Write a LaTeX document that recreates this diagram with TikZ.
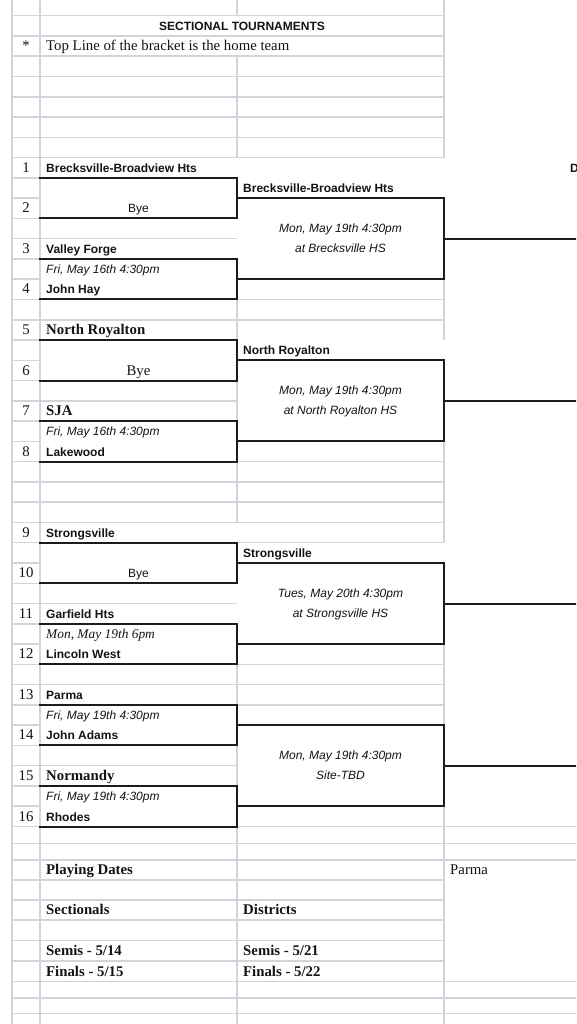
\documentclass[tikz,border=0pt]{standalone}
\usepackage{fontspec}
\setmainfont{Liberation Serif}
\setsansfont{Liberation Sans}
\definecolor{gridc}{RGB}{210,212,220}
\definecolor{brkc}{RGB}{28,28,28}
\definecolor{txtc}{RGB}{20,20,20}
\foreach \k in {0,...,40}{\pgfmathparse{15.7+20.27*\k}\expandafter\xdef\csname rowy\k\endcsname{\pgfmathresult}}
\foreach \k/\v in {41/843.3,42/860.2,43/880.0,44/900.0,45/920.2,46/940.7,47/961.2,48/981.7,49/998.2,50/1013.5}{\expandafter\xdef\csname rowy\k\endcsname{\v}}
\newcommand\RY[1]{\csname rowy#1\endcsname}
\begin{document}
\begin{tikzpicture}[x=1pt,y=-1pt,
  grid/.style={draw=gridc, line width=1.5pt},
  brk/.style={draw=brkc, line width=2pt, line cap=rect},
  base/.style={inner sep=0pt, text=txtc},
  sb/.style={base, font=\sffamily\bfseries\fontsize{12}{14}\selectfont},
  si/.style={base, font=\sffamily\itshape\fontsize{12}{14}\selectfont},
  sr/.style={base, font=\sffamily\fontsize{12}{14}\selectfont},
  rr/.style={base, font=\rmfamily\fontsize{14.8}{17}\selectfont},
  rb/.style={base, font=\rmfamily\bfseries\fontsize{14.8}{17}\selectfont},
  ri/.style={base, font=\rmfamily\itshape\fontsize{13.4}{16}\selectfont},
  L/.style={anchor=base west},
  C/.style={anchor=base}
]
\useasboundingbox (0,0) rectangle (576,1024);
\clip (0,0) rectangle (576,1024);
\fill[white] (0,0) rectangle (576,1024);

% ---- light spreadsheet grid ----
\draw[grid] (12,0) -- (12,1024);
\draw[grid] (40,0) -- (40,1024);
\draw[grid] (237,0) -- (237,{\RY{0}});
\foreach \a/\b in {2/7,14/16,18/20,22/25,32/34,36/38}
  \draw[grid] (237,{\RY{\a}}) -- (237,{\RY{\b}});
\draw[grid] (237,{\RY{40}}) -- (237,1024);
\draw[grid] (444,0) -- (444,{\RY{7}});
\foreach \a/\b in {13/16,21/26,31/35}
  \draw[grid] (444,{\RY{\a}}) -- (444,{\RY{\b}});
\draw[grid] (444,{\RY{39}}) -- (444,1024);
\foreach \k in {0,...,50}
  \draw[grid] (12,{\RY{\k}}) -- (40,{\RY{\k}});
\foreach \k in {0,1,2,3,4,5,6,7,11,15,19,23,24,25,29,33,37,41,42,43,44,45,46,47,48,49,50}
  \draw[grid] (40,{\RY{\k}}) -- (237,{\RY{\k}});
\foreach \k in {0,1,2,3,4,5,6,7,14,15,22,23,24,25,26,32,33,34,40,41,42,43,44,45,46,47,48,49,50}
  \draw[grid] (237,{\RY{\k}}) -- (444,{\RY{\k}});
\foreach \k in {40,41,42,48,49,50}
  \draw[grid] (444,{\RY{\k}}) -- (576,{\RY{\k}});

% ---- bracket lines ----
\foreach \t/\b in {8/10,12/14,16/18,20/22,26/28,30/32,34/36,38/40}
  \draw[brk] (40,{\RY{\t}}) -- (237,{\RY{\t}}) -- (237,{\RY{\b}}) -- (40,{\RY{\b}});
\foreach \t/\m/\b in {9/11/13,17/19/21,27/29/31,35/37/39}{
  \draw[brk] (237,{\RY{\t}}) -- (444,{\RY{\t}}) -- (444,{\RY{\b}}) -- (237,{\RY{\b}});
  \draw[brk] (444,{\RY{\m}}) -- (576,{\RY{\m}});
}

% ---- header ----
\node[sb,C] (title) at (242,{\RY{1}-5.5}) {SECTIONAL TOURNAMENTS};
\node[rr,C] (star) at (26,{\RY{2}-5.5}) {*};
\node[rr,L] (note) at (46,{\RY{2}-5.5}) {Top Line of the bracket is the home team};
\node[sb,L] (dcut) at (570,{\RY{8}-5.5}) {D};

% ---- seed numbers ----
\foreach \n/\b in {1/8,2/10,3/12,4/14,5/16,6/18,7/20,8/22,9/26,10/28,11/30,12/32,13/34,14/36,15/38,16/40}
  \node[rr,C] (n\n) at (26,{\RY{\b}-5.5}) {\n};

% ---- first round (column B) ----
\node[sb,L] (t1)  at (46,{\RY{8}-5.5}) {Brecksville-Broadview Hts};
\node[sr,C] (t2)  at (138.5,{\RY{10}-5.5}) {Bye};
\node[sb,L] (t3)  at (46,{\RY{12}-5.5}) {Valley Forge};
\node[si,L] (g2)  at (46,{\RY{13}-5.5}) {Fri, May 16th 4:30pm};
\node[sb,L] (t4)  at (46,{\RY{14}-5.5}) {John Hay};
\node[rb,L] (t5)  at (46,{\RY{16}-5.5}) {North Royalton};
\node[rr,C] (t6)  at (138.5,{\RY{18}-5.5}) {Bye};
\node[rb,L] (t7)  at (46,{\RY{20}-5.5}) {SJA};
\node[si,L] (g4)  at (46,{\RY{21}-5.5}) {Fri, May 16th 4:30pm};
\node[sb,L] (t8)  at (46,{\RY{22}-5.5}) {Lakewood};
\node[sb,L] (t9)  at (46,{\RY{26}-5.5}) {Strongsville};
\node[sr,C] (t10) at (138.5,{\RY{28}-5.5}) {Bye};
\node[sb,L] (t11) at (46,{\RY{30}-5.5}) {Garfield Hts};
\node[ri,L] (g6)  at (46,{\RY{31}-5.5}) {Mon, May 19th 6pm};
\node[sb,L] (t12) at (46,{\RY{32}-5.5}) {Lincoln West};
\node[sb,L] (t13) at (46,{\RY{34}-5.5}) {Parma};
\node[si,L] (g7)  at (46,{\RY{35}-5.5}) {Fri, May 19th 4:30pm};
\node[sb,L] (t14) at (46,{\RY{36}-5.5}) {John Adams};
\node[rb,L] (t15) at (46,{\RY{38}-5.5}) {Normandy};
\node[si,L] (g8)  at (46,{\RY{39}-5.5}) {Fri, May 19th 4:30pm};
\node[sb,L] (t16) at (46,{\RY{40}-5.5}) {Rhodes};

% ---- second round (column C) ----
\node[sb,L] (w1) at (243,{\RY{9}-5.5}) {Brecksville-Broadview Hts};
\node[si,C] (s1a) at (340.5,{\RY{11}-6.5}) {Mon, May 19th 4:30pm};
\node[si,C] (s1b) at (340.5,{\RY{12}-6.5}) {at Brecksville HS};
\node[sb,L] (w2) at (243,{\RY{17}-5.5}) {North Royalton};
\node[si,C] (s2a) at (340.5,{\RY{19}-6.5}) {Mon, May 19th 4:30pm};
\node[si,C] (s2b) at (340.5,{\RY{20}-6.5}) {at North Royalton HS};
\node[sb,L] (w3) at (243,{\RY{27}-5.5}) {Strongsville};
\node[si,C] (s3a) at (340.5,{\RY{29}-6.5}) {Tues, May 20th 4:30pm};
\node[si,C] (s3b) at (340.5,{\RY{30}-6.5}) {at Strongsville HS};
\node[si,C] (s4a) at (340.5,{\RY{37}-6.5}) {Mon, May 19th 4:30pm};
\node[si,C] (s4b) at (340.5,{\RY{38}-6.5}) {Site-TBD};

% ---- playing dates ----
\node[rb,L] (pd)   at (46,{\RY{43}-5.5}) {Playing Dates};
\node[rr,L] (host) at (450,{\RY{43}-5.5}) {Parma};
\node[rb,L] (sec)  at (46,{\RY{45}-5.5}) {Sectionals};
\node[rb,L] (dis)  at (243,{\RY{45}-5.5}) {Districts};
\node[rb,L] (ss)   at (46,{\RY{47}-5.5}) {Semis - 5/14};
\node[rb,L] (sf)   at (46,{\RY{48}-5.5}) {Finals - 5/15};
\node[rb,L] (ds)   at (243,{\RY{47}-5.5}) {Semis - 5/21};
\node[rb,L] (df)   at (243,{\RY{48}-5.5}) {Finals - 5/22};
\end{tikzpicture}
\end{document}
